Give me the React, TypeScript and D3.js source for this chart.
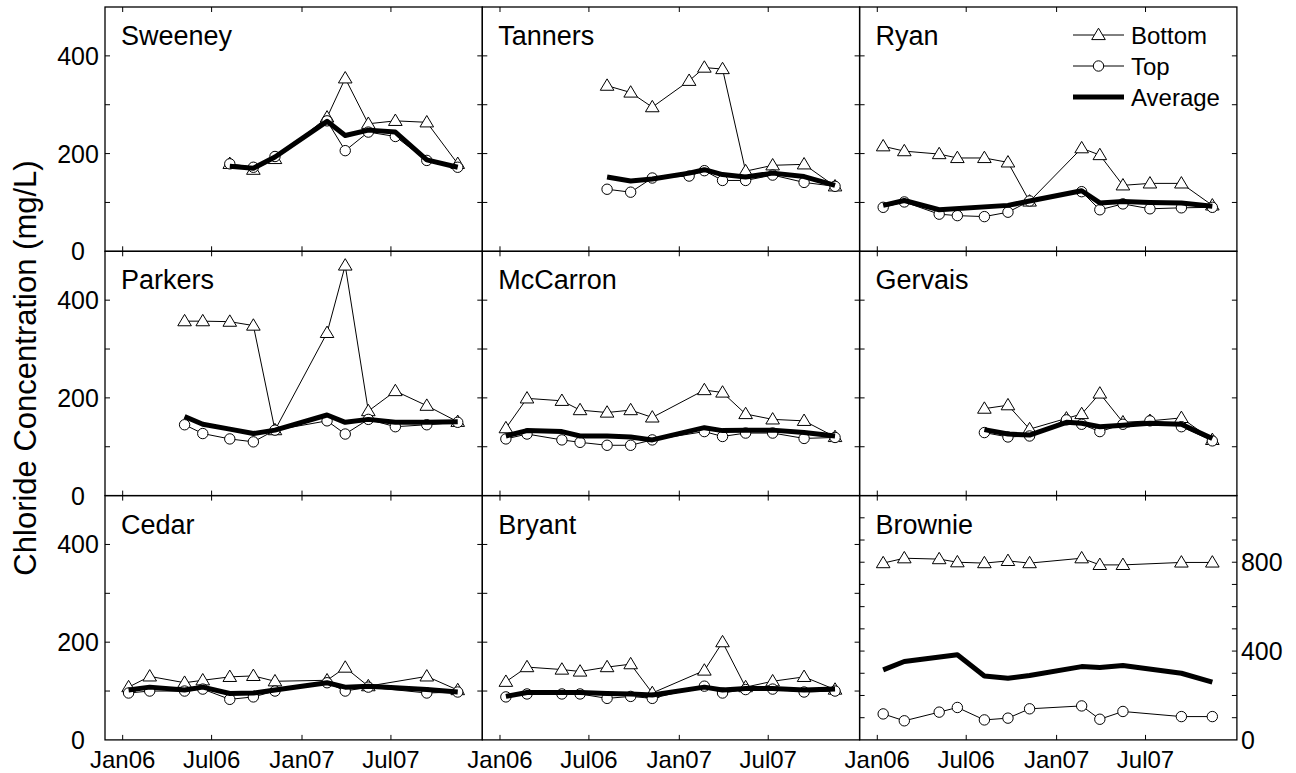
import React from 'react';
import * as d3 from 'd3';

// sampling dates shared by all lakes (null = not sampled)
const sampleDates = [
  '2006-01-13', '2006-02-25', '2006-05-07', '2006-06-13', '2006-08-07', '2006-09-24', '2006-11-07',
  '2007-01-21', '2007-02-21', '2007-03-30', '2007-05-16', '2007-07-10', '2007-09-12', '2007-11-14',
];

const N = null;

const sweeneyBottom = [N, N, N, N, 179, 167, 189, N, 274, 354, 261, 267, 264, 179];
const sweeneyTop = [N, N, N, N, 179, 172, 194, N, 267, 206, 244, 235, 186, 172];
const sweeneyAvg = [N, N, N, N, 174, 170, 193, N, 266, 237, 248, 244, 187, 172];

const tannersBottom = [N, N, N, N, 339, 325, 295, 349, 376, 373, 164, 176, 178, 133];
const tannersTop = [N, N, N, N, 127, 121, 150, 154, 165, 145, 145, 156, 141, 133];
const tannersAvg = [N, N, N, N, 152, 144, 148, 160, 167, 157, 152, 160, 153, 135];

const ryanBottom = [215, 205, 199, 191, 191, 182, 102, N, 211, 197, 135, 139, 139, 94];
const ryanTop = [90, 101, 76, 73, 71, 80, 103, N, 122, 85, 97, 87, 89, 90];
const ryanAvg = [94, 104, 85, N, N, 94, 103, N, 124, 99, 102, 100, 99, 92];

const parkersBottom = [N, N, 357, 357, 356, 348, 134, N, 333, 471, 173, 214, 184, 151];
const parkersTop = [N, N, 145, 127, 116, 110, 134, N, 153, 126, 156, 141, 145, 150];
const parkersAvg = [N, N, 162, 146, 136, 127, 134, N, 165, 150, 156, 150, 150, 151];

const mccarronBottom = [138, 199, 194, 175, 170, 175, 160, N, 216, 211, 167, 156, 153, 120];
const mccarronTop = [116, 126, 114, 109, 103, 103, 114, N, 131, 121, 128, 128, 117, 119];
const mccarronAvg = [122, 133, 131, 122, 122, 120, 114, N, 139, 133, 134, 134, 129, 122];

const gervaisBottom = [N, N, N, N, 178, 185, 136, 158, 167, 209, 150, 153, 159, 114];
const gervaisTop = [N, N, N, N, 129, 120, 122, 155, 146, 131, 146, 153, 141, 112];
const gervaisAvg = [N, N, N, N, 135, 126, 124, 150, 148, 141, 144, 148, 146, 117];

const cedarBottom = [108, 130, 117, 122, 129, 131, 120, N, 122, 148, 110, N, 130, 102];
const cedarTop = [96, 100, 100, 104, 83, 88, 100, N, 117, 100, 108, N, 96, 98];
const cedarAvg = [102, 108, 102, 108, 95, 96, 102, N, 117, 108, 110, N, 103, 98];

const bryantBottom = [119, 149, 144, 140, 149, 155, 96, N, 142, 200, 108, 120, 129, 103];
const bryantTop = [88, 94, 94, 94, 85, 89, 85, N, 110, 96, 103, 104, 98, 100];
const bryantAvg = [89, 97, 97, 97, 95, 94, 92, N, 108, 102, 105, 105, 102, 104];

const brownieBottom = [796, 818, 814, 800, 796, 806, 796, N, 818, 788, 788, N, 799, 799];
const brownieTop = [117, 86, 125, 146, 90, 98, 140, N, 153, 93, 128, N, 105, 105];
const brownieAvg = [315, 353, N, 383, 288, 278, 290, N, 330, 326, 335, N, 300, 260];

const lakeNames = ['Sweeney', 'Tanners', 'Ryan', 'Parkers', 'McCarron', 'Gervais', 'Cedar', 'Bryant', 'Brownie'];
const bottomSeries = [sweeneyBottom, tannersBottom, ryanBottom, parkersBottom, mccarronBottom, gervaisBottom, cedarBottom, bryantBottom, brownieBottom];
const topSeries = [sweeneyTop, tannersTop, ryanTop, parkersTop, mccarronTop, gervaisTop, cedarTop, bryantTop, brownieTop];
const avgSeries = [sweeneyAvg, tannersAvg, ryanAvg, parkersAvg, mccarronAvg, gervaisAvg, cedarAvg, bryantAvg, brownieAvg];
const yMaxes = [500, 500, 500, 500, 500, 500, 500, 500, 1100];

const xTickDates = ['2006-01-01', '2006-07-01', '2007-01-01', '2007-07-01'];
const xTickLabels = ['Jan06', 'Jul06', 'Jan07', 'Jul07'];
const leftTickLabels = [0, 200, 400];
const rightTickLabels = [0, 400, 800];
const legendLabels = ['Bottom', 'Top', 'Average'];

const W = 1296;
const H = 773;
const X0 = 105;
const Y0 = 7;
const PW = 377.3;
const PH = 244.3;
const FONT = "'Liberation Sans', Arial, Helvetica, sans-serif";

const parse = d3.timeParse('%Y-%m-%d');
const dates = sampleDates.map((d) => parse(d) as Date);

function triangle(x: number, y: number) {
  return `M${x},${y - 6.8}L${x + 6.8},${y + 4.6}L${x - 6.8},${y + 4.6}Z`;
}

function Panel({ i }: { i: number }) {
  const col = i % 3;
  const row = Math.floor(i / 3);
  const left = X0 + col * PW;
  const top = Y0 + row * PH;
  const yMax = yMaxes[i];

  const x = d3.scaleTime().domain([new Date(2005, 10, 26), new Date(2008, 0, 3)]).range([left, left + PW]);
  const y = d3.scaleLinear().domain([0, yMax]).range([top + PH, top]);

  const pts = (arr: (number | null)[]) =>
    arr.map((v, j) => ({ d: dates[j], v })).filter((p) => p.v != null) as { d: Date; v: number }[];
  const line = d3
    .line<{ d: Date; v: number }>()
    .x((p) => x(p.d))
    .y((p) => y(p.v));

  const bottom = pts(bottomSeries[i]);
  const topPts = pts(topSeries[i]);
  const avg = pts(avgSeries[i]);
  const yTicks = d3.range(100, yMax, 100);

  return (
    <g>
      <rect x={left} y={top} width={PW} height={PH} fill="none" stroke="#000" strokeWidth={1.3} />
      {xTickDates.map((t) => {
        const tx = x(parse(t) as Date);
        return (
          <g key={t}>
            <line x1={tx} x2={tx} y1={top} y2={top + 5} stroke="#000" />
            <line x1={tx} x2={tx} y1={top + PH} y2={top + PH - 5} stroke="#000" />
          </g>
        );
      })}
      {yTicks.map((t) => (
        <g key={t}>
          <line x1={left} x2={left + 5} y1={y(t)} y2={y(t)} stroke="#000" />
          <line x1={left + PW} x2={left + PW - 5} y1={y(t)} y2={y(t)} stroke="#000" />
        </g>
      ))}

      <path d={line(bottom) || ''} fill="none" stroke="#000" strokeWidth={1} />
      {bottom.map((p, k) => (
        <path key={'b' + k} d={triangle(x(p.d), y(p.v))} fill="#fff" stroke="#000" strokeWidth={1} />
      ))}
      <path d={line(topPts) || ''} fill="none" stroke="#000" strokeWidth={1} />
      {topPts.map((p, k) => (
        <circle key={'t' + k} cx={x(p.d)} cy={y(p.v)} r={5.2} fill="#fff" stroke="#000" strokeWidth={1} />
      ))}
      <path d={line(avg) || ''} fill="none" stroke="#000" strokeWidth={5} strokeLinejoin="round" />

      <text x={left + 16} y={top + 38} fontSize={27} fontFamily={FONT}>
        {lakeNames[i]}
      </text>

      {col === 0 &&
        leftTickLabels.map((t) => (
          <text key={t} x={78} y={y(t)} dy="0.36em" textAnchor="middle" fontSize={25} fontFamily={FONT}>
            {t}
          </text>
        ))}
      {i === 8 &&
        rightTickLabels.map((t) => (
          <text key={t} x={left + PW + 4} y={y(t)} dy="0.36em" textAnchor="start" fontSize={25} fontFamily={FONT}>
            {t}
          </text>
        ))}
      {row === 2 &&
        xTickDates.map((t, k) => (
          <text key={t} x={x(parse(t) as Date)} y={top + PH + 28} textAnchor="middle" fontSize={24} fontFamily={FONT}>
            {xTickLabels[k]}
          </text>
        ))}

      {i === 2 && (
        <g>
          {legendLabels.map((lab, k) => {
            const ly = top + 28 + k * 31;
            const lx1 = 1073;
            const lx2 = 1124;
            return (
              <g key={lab}>
                <line x1={lx1} x2={lx2} y1={ly} y2={ly} stroke="#000" strokeWidth={k === 2 ? 5 : 1} />
                {k === 0 && <path d={triangle((lx1 + lx2) / 2, ly)} fill="#fff" stroke="#000" />}
                {k === 1 && <circle cx={(lx1 + lx2) / 2} cy={ly} r={5.2} fill="#fff" stroke="#000" />}
                <text x={1131} y={ly} dy="0.36em" fontSize={24} fontFamily={FONT}>
                  {lab}
                </text>
              </g>
            );
          })}
        </g>
      )}
    </g>
  );
}

export default function App() {
  return (
    <svg width={W} height={H} style={{ position: 'absolute', left: 0, top: 0, background: '#fff' }}>
      <rect width={W} height={H} fill="#fff" />
      {lakeNames.map((n, i) => (
        <Panel key={n} i={i} />
      ))}
      <text transform="translate(36,368) rotate(-90)" textAnchor="middle" fontSize={31} fontFamily={FONT}>
        Chloride Concentration (mg/L)
      </text>
    </svg>
  );
}
